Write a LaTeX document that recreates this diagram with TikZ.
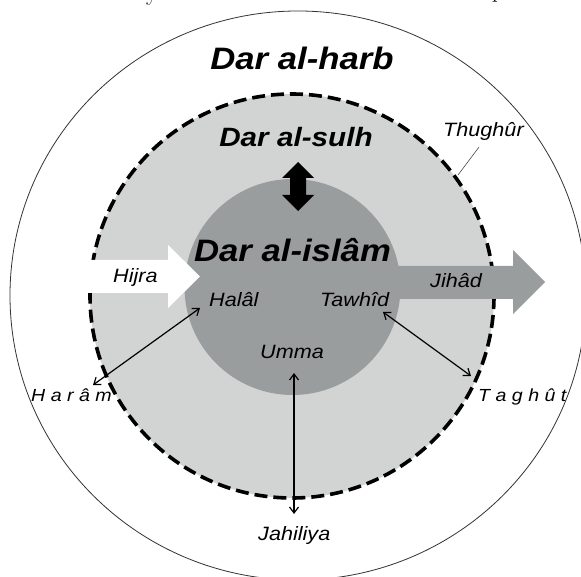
\documentclass[tikz,border=0pt]{standalone}
\usepackage{fontspec}
\usetikzlibrary{arrows.meta}
\newfontfamily\lsans[FakeStretch=1.12]{Liberation Sans}
\definecolor{ringgray}{RGB}{210,212,212}
\definecolor{coregray}{RGB}{154,157,157}
\begin{document}
\begin{tikzpicture}[x=1pt,y=-1pt,
  title/.style={font=\lsans\bfseries\itshape\fontsize{#1}{#1}\selectfont, inner sep=0pt, anchor=base},
  lbl/.style={font=\lsans\itshape\fontsize{#1}{#1}\selectfont, inner sep=0pt, anchor=base west},
  lbl/.default=19.3,
  conn/.style={line width=1.2pt, {Straight Barb[length=6pt,width=9pt]}-{Straight Barb[length=6pt,width=9pt]}},
  leader/.style={black!70, line width=0.6pt},
  frag/.style={font=\fontsize{24}{24}\selectfont, inner sep=0pt, anchor=base}
]
\useasboundingbox (0,0) rectangle (581,577);
\clip (0,0) rectangle (581,577);
\fill[white] (0,0) rectangle (581,577);
% page fragments above
\node[frag] (fy) at (152,1) {y};
\node[frag] (fp) at (498,-2) {p};
% rings
\draw[line width=0.8pt, black!80] (298,295.5) ellipse [x radius=288, y radius=284.5];
\fill[ringgray] (292,296) circle[radius=202];
\fill[coregray] (292.5,287) circle[radius=108];
\draw[line width=3.6pt, dash pattern=on 13pt off 6pt] (292,296) circle[radius=202];
% block arrows
\fill[coregray] (380,266) -- (513,266) -- (513,250) -- (545,282) -- (513,314) -- (513,299) -- (380,299) -- cycle;
\fill[white] (84,260) -- (168,260) -- (168,245) -- (200,276.5) -- (168,308) -- (168,293) -- (84,293) -- cycle;
\fill[black] (298,162) -- (314,178) -- (306,178) -- (306,195) -- (314,195) -- (298,211) -- (282,195) -- (290,195) -- (290,178) -- (282,178) -- cycle;
% titles
\node[title=31] (harb) at (302,70) {Dar al-harb};
\node[title=26.5] (sulh) at (296,147) {Dar al-sulh};
\node[title=31] (islam) at (292.5,262) {Dar al-islâm};
% labels
\node[lbl] (thughur) at (443,137) {Thughûr};
\node[lbl] (hijra) at (113,283) {Hijra};
\node[lbl] (halal) at (209,307) {Halâl};
\node[lbl] (tawhid) at (320,307) {Tawhîd};
\node[lbl] (jihad) at (430,288) {Jihâd};
\node[lbl] (umma) at (260,358) {Umma};
\node[lbl] (jahiliya) at (258,540) {Jahiliya};
\node[lbl=17.5] (haram) at (31,401) {H a r â m};
\node[lbl=17.5] (taghut) at (478,401) {T a g h û t};
% connectors
\coordinate (thA) at (479,147);
\coordinate (thB) at (458,175);
\draw[leader] (thA) -- (thB);
\coordinate (halA) at (200,308);
\coordinate (halB) at (93,385);
\draw[conn] (halA) -- (halB);
\coordinate (tawA) at (383,312);
\coordinate (tawB) at (471,376);
\draw[conn] (tawA) -- (tawB);
\coordinate (umA) at (294,373);
\coordinate (umB) at (294,514);
\draw[conn] (umA) -- (umB);
\end{tikzpicture}
\end{document}
